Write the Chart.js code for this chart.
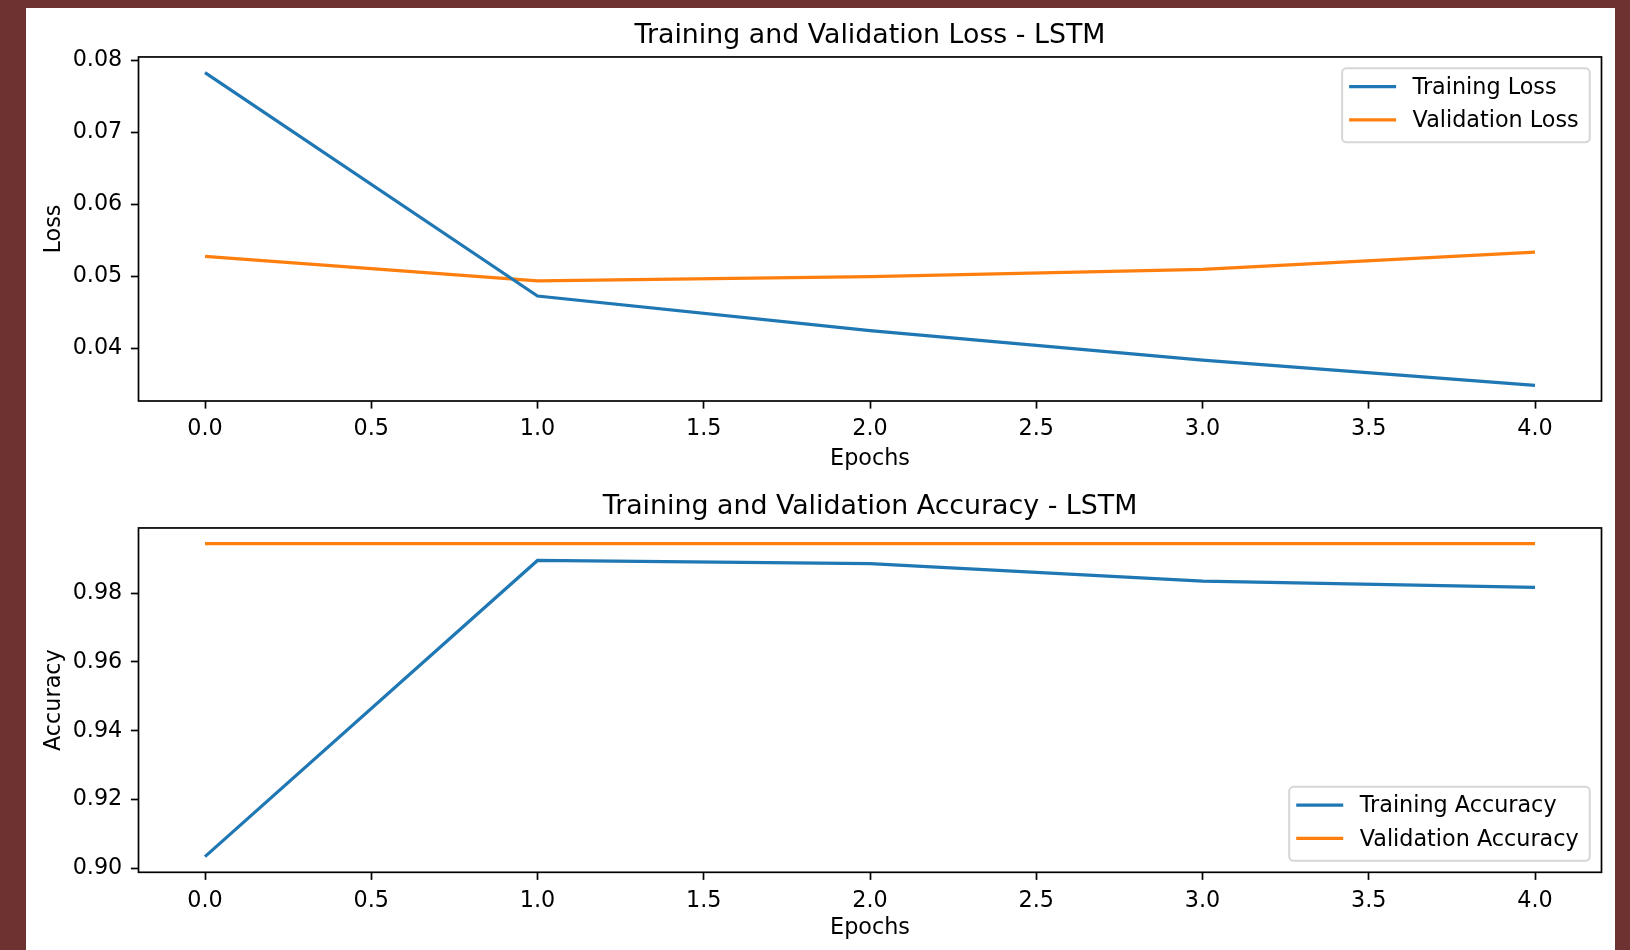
<!DOCTYPE html>
<html>
<head>
<meta charset="utf-8">
<script src="https://cdn.jsdelivr.net/npm/chart.js@4.4.1/dist/chart.umd.min.js"></script>
<style>
  html, body { margin: 0; padding: 0; background: #6e3230; }
  #panel { position: absolute; left: 26px; top: 8px; width: 1589px; height: 942px; background: #fff; }
  .box { position: absolute; left: 0; width: 1589px; }
  #lossBox { top: 0; height: 470px; }
  #accBox { top: 470px; height: 472px; }
</style>
</head>
<body>
<div id="panel">
  <div class="box" id="lossBox"><canvas id="lossChart"></canvas></div>
  <div class="box" id="accBox"><canvas id="accChart"></canvas></div>
</div>
<script>
// values
const epochs = [0, 1, 2, 3, 4];
const trainLoss = [0.0783, 0.0473, 0.0425, 0.0384, 0.0349];
const valLoss = [0.0528, 0.0494, 0.0500, 0.0510, 0.0534];
const trainAcc = [0.9034, 0.9895, 0.9886, 0.9835, 0.9817];
const valAcc = [0.9944, 0.9944, 0.9944, 0.9944, 0.9944];

const epochTicks = [0, 0.5, 1, 1.5, 2, 2.5, 3, 3.5, 4];
const lossTicks = [0.04, 0.05, 0.06, 0.07, 0.08];
const accTicks = [0.90, 0.92, 0.94, 0.96, 0.98];

const BLUE = '#1f77b4';
const ORANGE = '#ff7f0e';
const FONT = 22.3;
const TITLE_FONT = 26.8;

Chart.defaults.font.family = "'DejaVu Sans', sans-serif";
Chart.defaults.color = '#000';

// matplotlib style 5% margins
function padRange(arrs) {
  var all = [].concat.apply([], arrs);
  var lo = Math.min.apply(null, all), hi = Math.max.apply(null, all);
  var m = (hi - lo) * 0.05;
  return [lo - m, hi + m];
}

function points(xs, ys) {
  return xs.map(function (x, i) { return { x: x, y: ys[i] }; });
}

// black box round the plot area
var framePlugin = {
  id: 'frame',
  afterDatasetsDraw: function (chart) {
    var a = chart.chartArea, ctx = chart.ctx;
    ctx.save();
    ctx.strokeStyle = '#000';
    ctx.lineWidth = 1.7;
    ctx.strokeRect(a.left, a.top, a.right - a.left, a.bottom - a.top);
    ctx.restore();
  }
};

// legend box drawn inside the axes like matplotlib
var boxLegend = {
  id: 'boxLegend',
  afterDraw: function (chart, args, opts) {
    var a = chart.chartArea, ctx = chart.ctx;
    var sets = chart.data.datasets;
    ctx.save();
    ctx.font = FONT + "px 'DejaVu Sans'";
    var tw = 0;
    sets.forEach(function (d) { tw = Math.max(tw, ctx.measureText(d.label).width); });
    var w = 70.5 + tw + 11, h = 74;
    var right = a.right - 11.8;
    var top = opts.corner === 'lower' ? a.bottom - 11.6 - h : a.top + 11.3;
    var left = right - w;
    ctx.beginPath();
    ctx.roundRect(left, top, w, h, 4.3);
    ctx.fillStyle = 'rgba(255,255,255,0.8)';
    ctx.fill();
    ctx.strokeStyle = '#d6d6d6';
    ctx.lineWidth = 2;
    ctx.stroke();
    sets.forEach(function (d, i) {
      var cy = top + 18.4 + i * 33.3;
      ctx.beginPath();
      ctx.moveTo(left + 7, cy);
      ctx.lineTo(left + 54, cy);
      ctx.strokeStyle = d.borderColor;
      ctx.lineWidth = 3.2;
      ctx.stroke();
      ctx.fillStyle = '#000';
      ctx.textBaseline = 'middle';
      ctx.textAlign = 'left';
      ctx.fillText(d.label, left + 70.5, cy + 1.5);
    });
    ctx.restore();
  }
};

function makeChart(id, cfg) {
  var yr = padRange(cfg.series.map(function (s) { return s.data; }));
  return new Chart(document.getElementById(id), {
    type: 'line',
    data: {
      datasets: cfg.series.map(function (s) {
        return {
          label: s.label,
          data: points(epochs, s.data),
          borderColor: s.color,
          backgroundColor: s.color,
          borderWidth: 3.2,
          pointRadius: 0,
          tension: 0,
          fill: false
        };
      })
    },
    options: {
      responsive: true,
      maintainAspectRatio: false,
      animation: false,
      events: [],
      layout: { padding: { left: 0, right: 13.5, top: 0, bottom: 0 } },
      scales: {
        x: {
          type: 'linear',
          min: -0.2,
          max: 4.2,
          afterBuildTicks: function (scale) {
            scale.ticks = epochTicks.map(function (v) { return { value: v }; });
          },
          afterFit: function (scale) { scale.height = cfg.xHeight; },
          ticks: {
            autoSkip: false,
            maxRotation: 0,
            padding: 7.5,
            font: { size: FONT },
            callback: function (v) { return v.toFixed(1); }
          },
          grid: {
            drawOnChartArea: false,
            drawTicks: true,
            tickLength: 7.6,
            tickWidth: 1.7,
            tickColor: '#000'
          },
          border: { display: false },
          title: {
            display: true,
            text: 'Epochs',
            font: { size: FONT },
            padding: { top: 0, bottom: cfg.xTitlePad }
          }
        },
        y: {
          type: 'linear',
          min: yr[0],
          max: yr[1],
          afterBuildTicks: function (scale) {
            scale.ticks = cfg.yTicks.map(function (v) { return { value: v }; });
          },
          afterFit: function (scale) { scale.width = 112.5; },
          ticks: {
            padding: 8.6,
            font: { size: FONT },
            callback: function (v) { return v.toFixed(2); }
          },
          grid: {
            drawOnChartArea: false,
            drawTicks: true,
            tickLength: 7.6,
            tickWidth: 1.7,
            tickColor: '#000'
          },
          border: { display: false },
          title: {
            display: true,
            text: cfg.yTitle,
            font: { size: FONT },
            padding: { top: 15, bottom: 0 }
          }
        }
      },
      plugins: {
        legend: { display: false },
        tooltip: { enabled: false },
        title: {
          display: true,
          fullSize: false,
          text: cfg.title,
          font: { size: TITLE_FONT, weight: 'normal' },
          color: '#000',
          padding: cfg.titlePad
        },
        boxLegend: { corner: cfg.legendCorner }
      }
    },
    plugins: [framePlugin, boxLegend]
  });
}

makeChart('lossChart', {
  title: 'Training and Validation Loss - LSTM',
  yTitle: 'Loss',
  yTicks: lossTicks,
  series: [
    { label: 'Training Loss', data: trainLoss, color: BLUE },
    { label: 'Validation Loss', data: valLoss, color: ORANGE }
  ],
  legendCorner: 'upper',
  titlePad: { top: 11.5, bottom: 5.3 },
  xHeight: 77,
  xTitlePad: 5.4
});

makeChart('accChart', {
  title: 'Training and Validation Accuracy - LSTM',
  yTitle: 'Accuracy',
  yTicks: accTicks,
  series: [
    { label: 'Training Accuracy', data: trainAcc, color: BLUE },
    { label: 'Validation Accuracy', data: valAcc, color: ORANGE }
  ],
  legendCorner: 'lower',
  titlePad: { top: 13.2, bottom: 4.6 },
  xHeight: 77.7,
  xTitlePad: 8.1
});
</script>
</body>
</html>
